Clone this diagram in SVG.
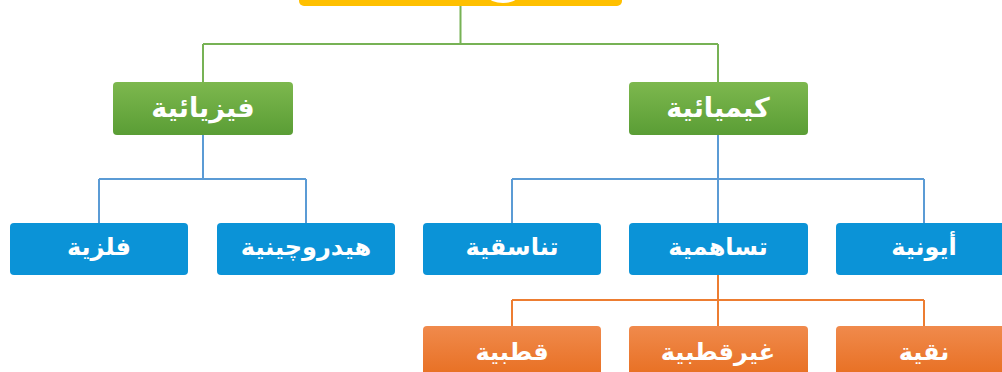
<svg xmlns="http://www.w3.org/2000/svg" width="1002" height="372" viewBox="0 0 1002 372">
<style>
.t{font-family:"DejaVu Sans",sans-serif;font-weight:bold;fill:#fff;text-anchor:middle;dominant-baseline:central}
.g{font-size:27px}
.b{font-size:24px}
.lg{stroke:#77b255;stroke-width:2;fill:none}
.lb{stroke:#5b9bd5;stroke-width:2;fill:none}
.lo{stroke:#ed7d31;stroke-width:2;fill:none}
</style>
<defs>
<linearGradient id="gg" x1="0" y1="0" x2="0" y2="1"><stop offset="0" stop-color="#7db84e"/><stop offset="1" stop-color="#5a9d35"/></linearGradient>
<linearGradient id="go" x1="0" y1="0" x2="0" y2="1"><stop offset="0" stop-color="#f08a4c"/><stop offset="1" stop-color="#e66a1a"/></linearGradient>
</defs>
<rect width="1002" height="372" fill="#fff"/>
<g id="connectors">
<path class="lg" d="M460.5 6V44M203 44H718M203 44V82M718 44V82"/>
<path class="lb" d="M203 135V179M99 179H306M99 179V223M306 179V223"/>
<path class="lb" d="M718 135V179M512 179H924M512 179V223M718 179V223M924 179V223"/>
<path class="lo" d="M718 275V300M512 300H924M512 300V326M718 300V326M924 300V326"/>
</g>
<g id="root">
<rect x="299" y="-40" width="323" height="46" rx="5" fill="#ffc000"/>
<ellipse cx="503" cy="-3" rx="14" ry="6" fill="#fff"/>
</g>
<g id="n-physical"><rect x="113" y="82" width="180" height="53" rx="4" fill="url(#gg)"/><text class="t g" x="203" y="107">فيزيائية</text></g>
<g id="n-chemical"><rect x="629" y="82" width="179" height="53" rx="4" fill="url(#gg)"/><text class="t g" x="718" y="107">كيميائية</text></g>
<g id="n-metallic"><rect x="10" y="223" width="178" height="52" rx="4" fill="#0b93d7"/><text class="t b" x="99" y="247">فلزية</text></g>
<g id="n-hydrogen"><rect x="217" y="223" width="178" height="52" rx="4" fill="#0b93d7"/><text class="t b" x="306" y="247">هيدروچينية</text></g>
<g id="n-coordinate"><rect x="423" y="223" width="178" height="52" rx="4" fill="#0b93d7"/><text class="t b" x="512" y="247">تناسقية</text></g>
<g id="n-covalent"><rect x="629" y="223" width="179" height="52" rx="4" fill="#0b93d7"/><text class="t b" x="718" y="247">تساهمية</text></g>
<g id="n-ionic"><rect x="836" y="223" width="178" height="52" rx="4" fill="#0b93d7"/><text class="t b" x="924" y="247">أيونية</text></g>
<g id="n-polar"><rect x="423" y="326" width="178" height="60" rx="4" fill="url(#go)"/><text class="t b" x="512" y="352">قطبية</text></g>
<g id="n-nonpolar"><rect x="629" y="326" width="179" height="60" rx="4" fill="url(#go)"/><text class="t b" x="718" y="352">غيرقطبية</text></g>
<g id="n-pure"><rect x="836" y="326" width="178" height="60" rx="4" fill="url(#go)"/><text class="t b" x="924" y="352">نقية</text></g>
</svg>
